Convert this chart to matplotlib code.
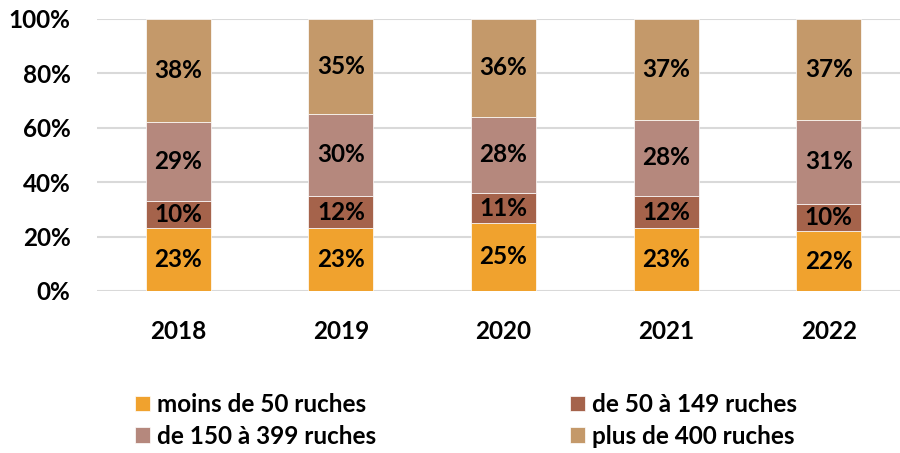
import matplotlib.pyplot as plt
import numpy as np

plt.rcParams['font.family'] = ['Lato', 'DejaVu Sans']
plt.rcParams['font.weight'] = 'bold'

annees = ['2018', '2019', '2020', '2021', '2022']
moins_50 = [23, 23, 25, 23, 22]
de_50_149 = [10, 12, 11, 12, 10]
de_150_399 = [29, 30, 28, 28, 31]
plus_400 = [38, 35, 36, 37, 37]

series = [moins_50, de_50_149, de_150_399, plus_400]
noms = ['moins de 50 ruches', 'de 50 à 149 ruches',
        'de 150 à 399 ruches', 'plus de 400 ruches']
couleurs = ['#F0A22E', '#A5634B', '#B5887D', '#C4996A']

taille = 17.5

fig = plt.figure(figsize=(9, 4.53), dpi=100)
ax = fig.add_axes([97/900, 1 - 291/453, 813/900, 272/453])

x = np.arange(len(annees))
bas = np.zeros(len(annees))
barres = []
for vals, nom, c in zip(series, noms, couleurs):
    b = ax.bar(x, vals, 0.4, bottom=bas, color=c, label=nom,
               edgecolor='white', linewidth=0.5, zorder=3)
    barres.append(b)
    for xi, v, b0 in zip(x, vals, bas):
        ax.text(xi, b0 + v / 2, f'{v}%', ha='center', va='center',
                fontsize=taille, fontweight='bold', color='black', zorder=4)
    bas += np.array(vals)

ax.set_xlim(-0.5, 4.5)
ax.set_ylim(0, 100)
ax.set_yticks(range(0, 101, 20))
ax.set_yticklabels([f'{v}%' for v in range(0, 101, 20)], fontsize=taille, fontweight='bold')
ax.set_xticks(x)
ax.set_xticklabels(annees, fontsize=taille, fontweight='bold')
ax.tick_params(length=0)
ax.tick_params(axis='y', pad=19)
ax.tick_params(axis='x', pad=21)
ax.grid(axis='y', color='#D9D9D9', linewidth=1.5, zorder=0)
for s in ax.spines.values():
    s.set_visible(False)

handles = [barres[0], barres[2], barres[1], barres[3]]
labels = [noms[0], noms[2], noms[1], noms[3]]
fig.legend(handles, labels, ncol=2, loc='upper left',
           bbox_to_anchor=(135/900, 1 - 393/453), frameon=False,
           fontsize=taille, handlelength=0.6, handleheight=0.6,
           handletextpad=0.3, columnspacing=8.0, labelspacing=0.35,
           borderaxespad=0, borderpad=0)

fig.savefig('out.png', dpi=100)
